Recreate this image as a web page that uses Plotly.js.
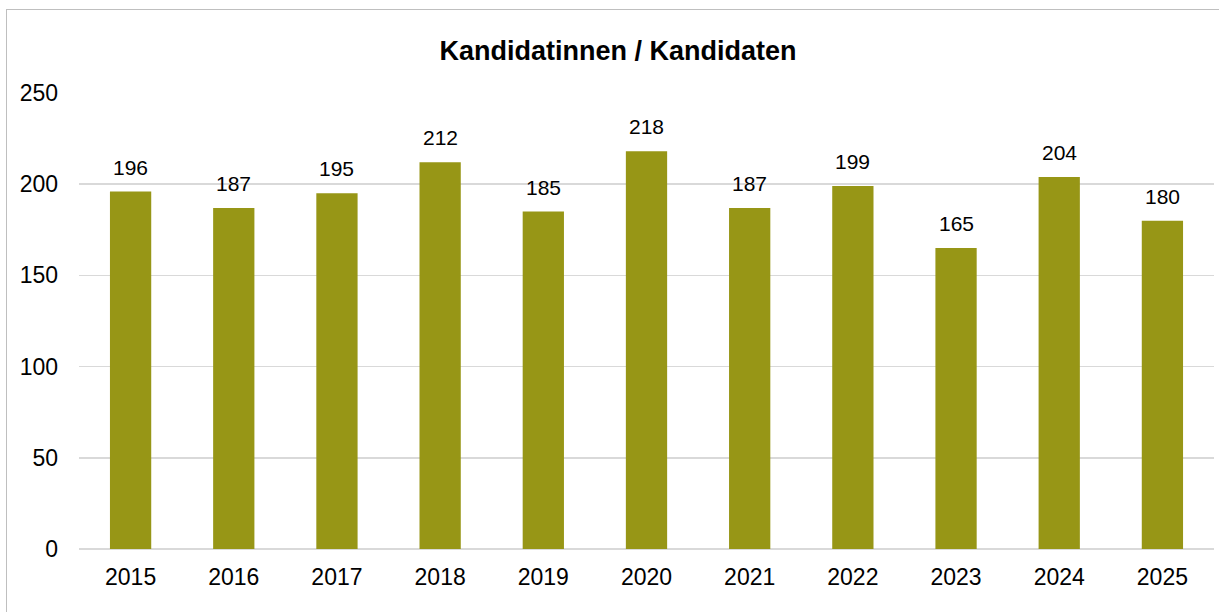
<!DOCTYPE html>
<html>
<head>
<meta charset="utf-8">
<script src="https://cdn.plot.ly/plotly-3.0.1.min.js"></script>
<style>
  html, body { margin: 0; padding: 0; background: #fff; overflow: hidden; }
  #wrap { position: relative; width: 1219px; height: 612px; }
  #chart { position: absolute; left: 0; top: 0; width: 1219px; height: 612px; }
  #frame { position: absolute; left: 6px; top: 9px; width: 1300px; height: 700px;
           border-left: 1px solid #bfbfbf; border-top: 1px solid #bfbfbf; pointer-events: none; }
</style>
</head>
<body>
<div id="wrap">
  <div id="chart"></div>
  <div id="frame"></div>
</div>
<script>
const years = ['2015','2016','2017','2018','2019','2020','2021','2022','2023','2024','2025'];
const candidates = [196, 187, 195, 212, 185, 218, 187, 199, 165, 204, 180];
const chartTitle = 'Kandidatinnen / Kandidaten';
const yTicks = [0, 50, 100, 150, 200, 250];

const FONT = 'Liberation Sans, Arial, sans-serif';

const trace = {
  type: 'bar',
  x: years,
  y: candidates,
  marker: { color: '#979616' },
  hoverinfo: 'x+y'
};

// category index positions (annotation x on a category axis is the category index)
const annotations = years.map((yr, i) => ({
  x: i,
  y: candidates[i],
  xref: 'x',
  yref: 'y',
  text: String(candidates[i]),
  showarrow: false,
  yanchor: 'bottom',
  yshift: 11,
  font: { family: FONT, size: 21, color: '#000' }
}));

const layout = {
  width: 1219,
  height: 612,
  paper_bgcolor: 'rgba(0,0,0,0)',
  plot_bgcolor: 'rgba(0,0,0,0)',
  margin: { l: 79, r: 5, t: 93, b: 63 },
  title: {
    text: '<b>' + chartTitle + '</b>',
    font: { family: FONT, size: 27, color: '#000' },
    x: 0.507, xref: 'container', xanchor: 'center',
    y: 1 - 51 / 612, yref: 'container', yanchor: 'middle'
  },
  bargap: 0.6,
  showlegend: false,
  xaxis: {
    type: 'category',
    categoryorder: 'array',
    categoryarray: years,
    range: [-0.5, years.length - 0.5],
    showgrid: false,
    showline: false,
    zeroline: false,
    ticks: '',
    ticklabelstandoff: 12,
    tickfont: { family: FONT, size: 23, color: '#000' }
  },
  yaxis: {
    range: [0, 250],
    tickvals: yTicks,
    ticktext: yTicks.map(String),
    showgrid: true,
    gridcolor: '#d9d9d9',
    gridwidth: 1.5,
    zeroline: true,
    zerolinecolor: '#d9d9d9',
    zerolinewidth: 1.5,
    showline: false,
    ticks: '',
    ticklabelstandoff: 20,
    tickfont: { family: FONT, size: 23, color: '#000' }
  },
  annotations: annotations
};

Plotly.newPlot('chart', [trace], layout, { displayModeBar: false, staticPlot: true });
</script>
</body>
</html>
